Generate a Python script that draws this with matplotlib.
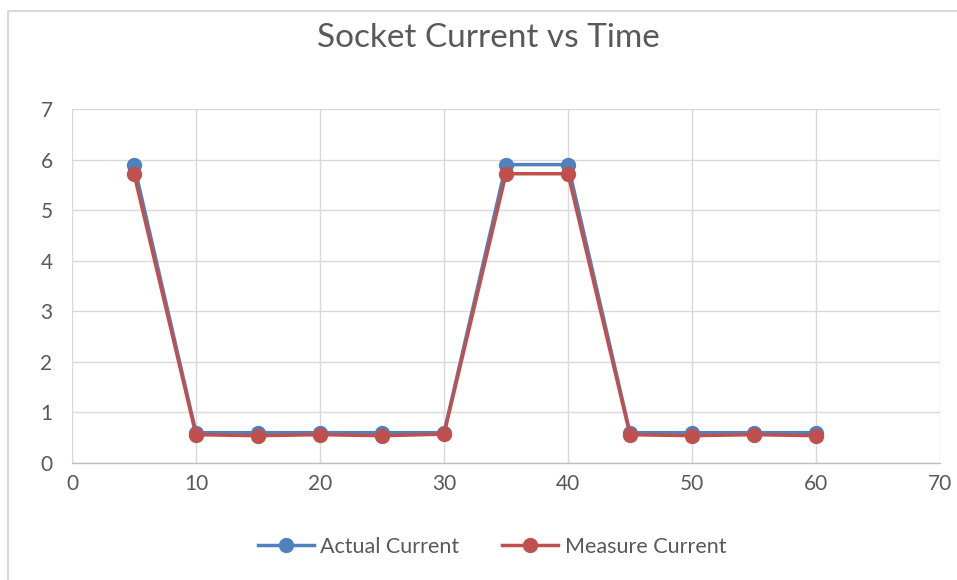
import matplotlib
matplotlib.use("Agg")
import matplotlib.pyplot as plt
from matplotlib.lines import Line2D

time = [5, 10, 15, 20, 25, 30, 35, 40, 45, 50, 55, 60]
actual_current = [5.9, 0.6, 0.6, 0.6, 0.6, 0.6, 5.9, 5.9, 0.6, 0.6, 0.6, 0.6]
measure_current = [5.72, 0.56, 0.54, 0.56, 0.54, 0.57, 5.72, 5.72, 0.56, 0.54, 0.56, 0.54]
x_ticks = [0, 10, 20, 30, 40, 50, 60, 70]
y_ticks = [0, 1, 2, 3, 4, 5, 6, 7]

plt.rcParams['font.family'] = ['Lato', 'DejaVu Sans']

W, H = 957, 580
fig = plt.figure(figsize=(W / 100, H / 100), dpi=100)
# chart area border (top and left edges visible)
fig.lines.append(Line2D([8 / W, 8 / W, 1.0], [0.0, 1 - 11 / H, 1 - 11 / H], transform=fig.transFigure,
                        color='#D9D9D9', linewidth=1.5))
ax = fig.add_axes([72 / W, 117 / H, 868 / W, 354 / H])

ax.plot(time, actual_current, color='#4F81BD', linewidth=2.5, marker='o', markersize=10,
        label='Actual Current', zorder=3)
ax.plot(time, measure_current, color='#C0504D', linewidth=2.5, marker='o', markersize=10,
        label='Measure Current', zorder=4)

ax.set_xlim(0, 70)
ax.set_ylim(0, 7)
ax.set_xticks(x_ticks)
ax.set_yticks(y_ticks)
ax.grid(True, color='#D9D9D9', linewidth=1)
ax.set_axisbelow(True)
for s in ['top', 'right', 'left']:
    ax.spines[s].set_visible(False)
ax.spines['bottom'].set_color('#BFBFBF')
ax.spines['bottom'].set_linewidth(1)
ax.tick_params(length=0, labelsize=15, labelcolor='#595959', pad=8)
ax.tick_params(axis='y', pad=14)

fig.text(488 / W, 1 - 38 / H, 'Socket Current vs Time', ha='center', va='center',
         fontsize=24, color='#595959')

leg = fig.legend(loc='center', bbox_to_anchor=(492 / W, 1 - 547 / H), ncol=2, frameon=False,
                 fontsize=15.5, handlelength=2.6, columnspacing=2.0, handletextpad=0.3)
for t in leg.get_texts():
    t.set_color('#595959')

fig.savefig('out.png', dpi=100)
